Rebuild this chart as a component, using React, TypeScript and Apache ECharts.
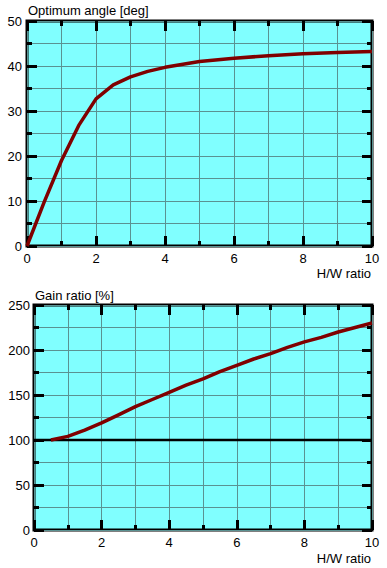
import React, { useEffect, useRef } from "react";
import * as echarts from "echarts";

const angleX = [0, 0.5, 1, 1.5, 2, 2.5, 3, 3.5, 4, 5, 6, 7, 8, 9, 10];
const angleY = [0, 9.8, 19, 26.8, 32.7, 35.8, 37.6, 38.8, 39.7, 41, 41.7, 42.3, 42.7, 43, 43.2];

const gainX = [0.5, 1, 1.5, 2, 2.5, 3, 3.5, 4, 4.5, 5, 5.5, 6, 6.5, 7, 7.5, 8, 8.5, 9, 9.5, 10];
const gainY = [100, 104, 111, 119, 128, 137, 145, 153, 161, 168, 176, 183, 190, 196, 203, 209, 214, 220, 225, 230];

const baselineValue = 100;
const baselineRange = [0, 10];

const topTitle = "Optimum angle [deg]";
const bottomTitle = "Gain ratio [%]";
const xTitle = "H/W ratio";

const FONT = "Liberation Sans, Arial, sans-serif";
const FS = 13;
const GRIDC = "#5a9292";

function xAxes(gridIndex: number) {
  const tick = { inside: true, length: 10, lineStyle: { color: "#000", width: 3 } };
  const minor = { show: true, splitNumber: 2, length: 5, lineStyle: { color: "#000", width: 3 } };
  return [
    {
      gridIndex, type: "value", min: 0, max: 10, interval: 2, position: "bottom",
      axisLine: { show: false, onZero: false }, axisTick: tick, minorTick: minor,
      splitLine: { show: true, lineStyle: { color: GRIDC, width: 1 } },
      minorSplitLine: { show: true, lineStyle: { color: GRIDC, width: 1 } },
      axisLabel: { fontSize: FS, color: "#000", fontFamily: FONT, margin: 6 },
    },
    {
      gridIndex, type: "value", min: 0, max: 10, interval: 2, position: "top",
      axisLine: { show: false, onZero: false }, axisTick: tick, minorTick: minor,
      splitLine: { show: false }, axisLabel: { show: false },
    },
  ];
}

function yAxes(gridIndex: number, max: number, interval: number, margin: number) {
  const tick = { inside: true, length: 10, lineStyle: { color: "#000", width: 3 } };
  const minor = { show: true, splitNumber: 2, length: 5, lineStyle: { color: "#000", width: 3 } };
  return [
    {
      gridIndex, type: "value", min: 0, max, interval, position: "left",
      axisLine: { show: false, onZero: false }, axisTick: tick, minorTick: minor,
      splitLine: { show: true, lineStyle: { color: GRIDC, width: 1 } },
      minorSplitLine: { show: true, lineStyle: { color: GRIDC, width: 1 } },
      axisLabel: { fontSize: FS, color: "#000", fontFamily: FONT, margin },
    },
    {
      gridIndex, type: "value", min: 0, max, interval, position: "right",
      axisLine: { show: false, onZero: false }, axisTick: tick, minorTick: minor,
      splitLine: { show: false }, axisLabel: { show: false },
    },
  ];
}

export default function App() {
  const ref = useRef<HTMLDivElement>(null);
  useEffect(() => {
    document.body.style.margin = "0";
    const chart = echarts.init(ref.current!, null, { renderer: "svg" });
    const text = (t: string, x: number, y: number, align: string) => ({
      type: "text", x, y, z: 100,
      style: { text: t, fontSize: FS, fontFamily: FONT, fill: "#000", align, verticalAlign: "middle" },
    });
    chart.setOption({
      animation: false,
      backgroundColor: "#fff",
      grid: [
        { left: 27, top: 21, width: 345, height: 225, show: true, backgroundColor: "#80ffff", borderColor: "#000", borderWidth: 3 },
        { left: 34, top: 305, width: 338, height: 225, show: true, backgroundColor: "#80ffff", borderColor: "#000", borderWidth: 3 },
      ],
      xAxis: [...xAxes(0), ...xAxes(1)],
      yAxis: [...yAxes(0, 50, 10, 5), ...yAxes(1, 250, 50, 4)],
      series: [
        {
          type: "line", xAxisIndex: 0, yAxisIndex: 0, showSymbol: false, smooth: false,
          data: angleX.map((x, i) => [x, angleY[i]]),
          lineStyle: { color: "#800000", width: 3.5 }, z: 5,
        },
        {
          type: "line", xAxisIndex: 2, yAxisIndex: 2, showSymbol: false,
          data: baselineRange.map((x) => [x, baselineValue]),
          lineStyle: { color: "#000", width: 2.5 }, z: 4,
        },
        {
          type: "line", xAxisIndex: 2, yAxisIndex: 2, showSymbol: false, smooth: false,
          data: gainX.map((x, i) => [x, gainY[i]]),
          lineStyle: { color: "#800000", width: 3.5 }, z: 5,
        },
      ],
      graphic: [
        text(topTitle, 28, 10, "left"),
        text(xTitle, 371, 273, "right"),
        text(bottomTitle, 35, 295, "left"),
        text(xTitle, 371, 558, "right"),
      ],
    });
    return () => chart.dispose();
  }, []);
  return <div ref={ref} style={{ width: 387, height: 568 }} />;
}
